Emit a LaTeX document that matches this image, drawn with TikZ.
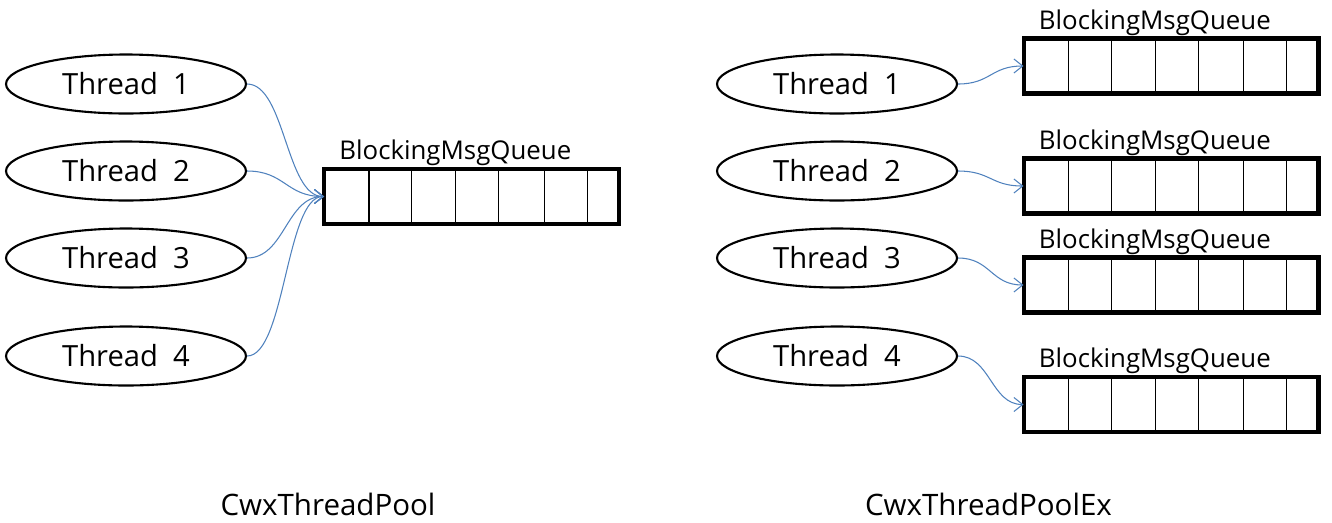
\documentclass[tikz,border=0pt]{standalone}
\usepackage{fontspec}
\setmainfont{Open Sans}
\usetikzlibrary{arrows.meta,shapes.geometric}
\definecolor{conn}{RGB}{79,129,189}
\tikzset{
  thr/.style={draw=black, line width=1.2pt, ellipse, minimum width=4.8cm, minimum height=1.18cm, inner sep=0pt, font=\fontsize{16.6}{18}\selectfont},
  queue/.style={draw=black, line width=2.3pt, rectangle, minimum width=5.9cm, minimum height=1.1cm, inner sep=0pt, outer sep=0pt,
    path picture={
      \foreach \f in {0.1525,0.298,0.447,0.593,0.746,0.892}{
        \draw[line width=0.6pt] ([xshift=\f*5.9cm]path picture bounding box.south west) -- ([xshift=\f*5.9cm]path picture bounding box.north west);
      }
    }},
  qlabel/.style={anchor=base west, inner sep=0pt, font=\fontsize{14.7}{16}\selectfont},
  title/.style={font=\fontsize{16.8}{19}\selectfont},
  link/.style={draw=conn, line width=0.6pt, -{Straight Barb[length=5pt,width=8pt,line width=0.6pt]}},
}
\begin{document}
\begin{tikzpicture}[x=0.02cm,y=-0.02cm]
\useasboundingbox (0,0) rectangle (1332,522);
% left side
\node[thr] (t1) at (126,84) {Thread\ \ 1};
\node[thr] (t2) at (126,171) {Thread\ \ 2};
\node[thr] (t3) at (126,258) {Thread\ \ 3};
\node[thr] (t4) at (126,356) {Thread\ \ 4};
\node[queue] (q) at (471.5,196.5) {};
\node[qlabel] (ql) at ([xshift=0.3cm,yshift=0.19cm]q.north west) {BlockingMsgQueue};
\foreach \t in {t1,t2,t3,t4}{
  \draw[link] (\t.east) .. controls ([xshift=0.76cm]\t.east) and ([xshift=-0.76cm]q.west) .. (q.west);
}
% right side
\node[thr] (r1) at (837,84) {Thread\ \ 1};
\node[thr] (r2) at (837,171) {Thread\ \ 2};
\node[thr] (r3) at (837,258) {Thread\ \ 3};
\node[thr] (r4) at (837,356) {Thread\ \ 4};
\node[queue] (p1) at (1171,66) {};
\node[queue] (p2) at (1171,186) {};
\node[queue] (p3) at (1171,285) {};
\node[queue] (p4) at (1171,404.5) {};
\foreach \i in {1,2,3,4}{
  \node[qlabel] (pl\i) at ([xshift=0.3cm,yshift=0.19cm]p\i.north west) {BlockingMsgQueue};
  \draw[link] (r\i.east) .. controls ([xshift=0.65cm]r\i.east) and ([xshift=-0.65cm]p\i.west) .. (p\i.west);
}
% titles
\node[title] (c1) at (328,504) {CwxThreadPool};
\node[title] (c2) at (988.5,504) {CwxThreadPoolEx};
\end{tikzpicture}
\end{document}
